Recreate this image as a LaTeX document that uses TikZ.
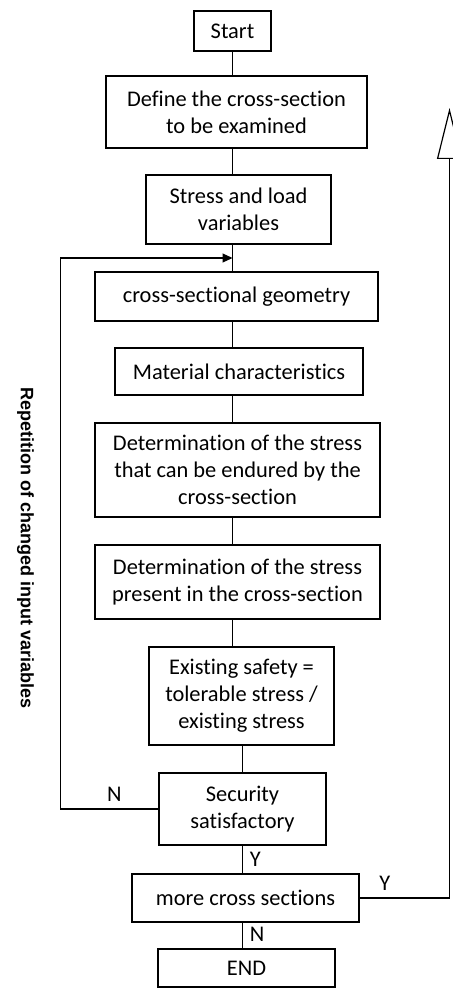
\documentclass[tikz,border=0pt]{standalone}
\usepackage{fontspec}
\setmainfont{Carlito}[Ligatures=NoCommon]
\newfontfamily\labelfont{Liberation Sans}
\usetikzlibrary{arrows.meta, calc}

\begin{document}
\begin{tikzpicture}[
        x=0.5pt, y=-0.5pt,
        font=\fontsize{11.2}{13.5}\selectfont,
        line width=0.6pt,
        >={Triangle[length=5pt, width=4.5pt]},
        box/.style={draw, align=center, inner sep=0pt}
    ]

    % frame of the picture
    \useasboundingbox (0,0) rectangle (453,988);
    \clip (0,0) rectangle (453,988);

    % Steps
    \node[box, minimum width=38.5pt, minimum height=20pt] (start) at (232.5,31) {Start};
    \node[box, minimum width=130.5pt, minimum height=36pt] (define) at (236.5,112) {Define the cross-section\\to be examined};
    \node[box, minimum width=92.5pt, minimum height=34.5pt] (stress) at (238.5,209.5) {Stress and load\\variables};
    \node[box, minimum width=141.5pt, minimum height=24.5pt] (geometry) at (236.5,296.5) {cross-sectional geometry};
    \node[box, minimum width=124pt, minimum height=23.5pt] (material) at (239,371.5) {Material characteristics};
    \node[box, minimum width=142.5pt, minimum height=47pt] (endured) at (237.5,470) {Determination of the stress\\that can be endured by the\\cross-section};
    \node[box, minimum width=142.5pt, minimum height=37pt] (present) at (237.5,582) {Determination of the stress\\present in the cross-section};
    \node[box, minimum width=92.5pt, minimum height=49pt] (existing) at (241.5,696) {Existing safety =\\tolerable stress /\\existing stress};
    \node[box, minimum width=83.5pt, minimum height=36pt] (security) at (242.5,809) {Security\\satisfactory};
    \node[box, minimum width=113.5pt, minimum height=24pt] (more) at (245.5,898) {more cross sections};
    \node[box, minimum width=88.5pt, minimum height=19pt] (end) at (246.5,968) {END};

    % Main line
    \draw (start.south) -- (define.north -| start);
    \draw (define.south -| start) -- (stress.north -| start);
    \draw (stress.south -| start) -- (geometry.north -| start);
    \draw (geometry.south -| start) -- (material.north -| start);
    \draw (material.south -| start) -- (endured.north -| start);
    \draw (endured.south -| start) -- (present.north -| start);
    \draw (present.south -| start) -- (existing.north -| start);
    \draw (existing.south -| security) -- (security.north);
    \draw (security.south) -- node[right, pos=0.5] {Y} (more.north -| security);
    \draw (more.south -| security) -- node[right, pos=0.45] {N} (end.north -| security);

    % Loop back (N)
    \coordinate (join) at ($(stress.south -| start)!0.5!(geometry.north -| start)$);
    \draw[->] (security.west) -- node[above, pos=0.45] {N} ++(-98,0) |- (join);

    % Next cross section (Y)
    \coordinate (rtop) at (449.5,108);
    \draw[-{Triangle[open, length=25.5pt, width=12.5pt]}] (more.east) -- node[above, pos=0.28] {Y} (more.east -| rtop) -- (rtop);

    % Side label
    \node[rotate=-90, font=\labelfont\bfseries\fontsize{9}{11}\selectfont] (repeat) at (25.5,548) {Repetition of changed input variables};

\end{tikzpicture}
\end{document}
